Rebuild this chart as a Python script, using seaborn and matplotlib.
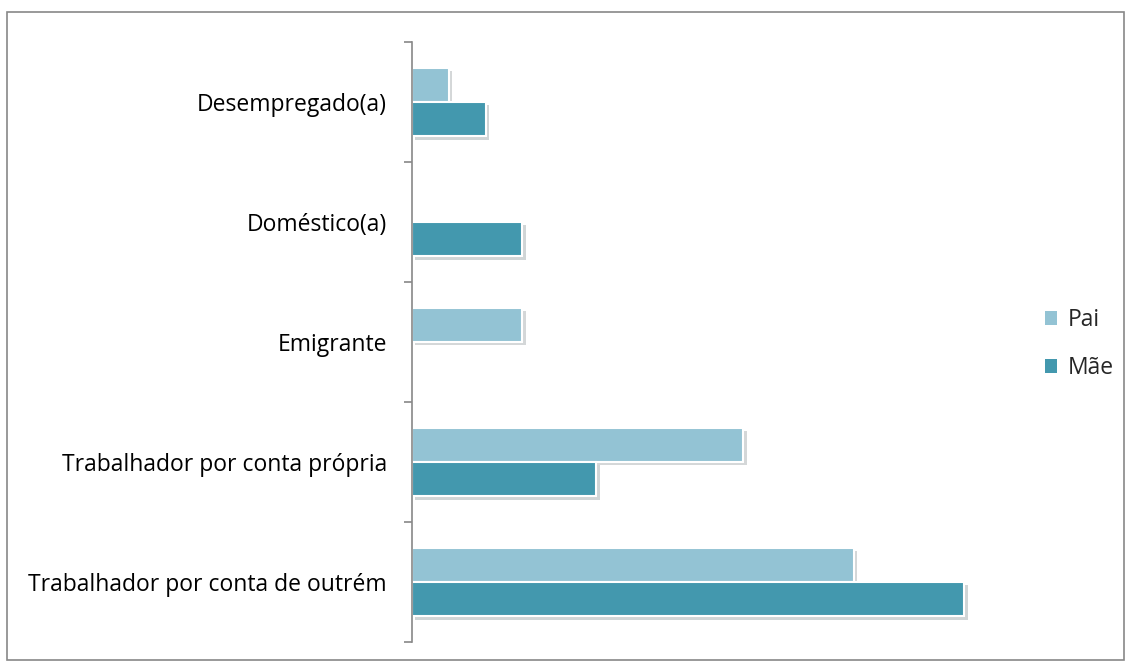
import matplotlib
matplotlib.use("Agg")
import matplotlib.pyplot as plt
import matplotlib.patheffects as pe
from matplotlib.patches import Rectangle
import seaborn as sns
import pandas as pd
import numpy as np

categories = ["Desempregado(a)", "Doméstico(a)", "Emigrante",
              "Trabalhador por conta própria", "Trabalhador por conta de outrém"]
pai = [1, 0, 3, 9, 12]
mae = [2, 3, 0, 5, 15]
series = ["Pai", "Mãe"]
colors = ["#93c3d4", "#4398ae"]

df = pd.DataFrame({
    "categoria": categories * 2,
    "valor": pai + mae,
    "serie": ["Pai"] * len(categories) + ["Mãe"] * len(categories),
})

sns.set_theme(style="white")
plt.rcParams["font.family"] = ["Open Sans", "DejaVu Sans"]

fig = plt.figure(figsize=(11.31, 6.66), dpi=100)
ax = fig.add_axes([412 / 1131, 1 - 642 / 666, (1001 - 412) / 1131, 600 / 666])

sns.barplot(data=df, y="categoria", x="valor", hue="serie", order=categories,
            hue_order=series, palette=colors, saturation=1, orient="h", width=0.57,
            edgecolor="white", linewidth=1.5, ax=ax, legend=False)

for p in ax.patches:
    if p.get_width() > 0:
        p.set_path_effects([pe.SimplePatchShadow(offset=(2.5, -2.5), alpha=0.2),
                            pe.Normal()])
    else:
        p.set_visible(False)

ax.set_xlim(0, 16)
ax.set_ylim(len(categories) - 0.5, -0.5)
ax.set_xlabel("")
ax.set_ylabel("")
ax.set_xticks([])
for s in ["top", "right", "bottom"]:
    ax.spines[s].set_visible(False)
ax.spines["left"].set_color("#888888")
ax.spines["left"].set_linewidth(1.2)

ax.set_yticks(np.arange(len(categories)))
ax.set_yticklabels(categories, fontsize=16.5, color="black")
ax.tick_params(axis="y", which="major", length=0, pad=18)
ax.set_yticks(np.arange(len(categories) + 1) - 0.5, minor=True)
ax.tick_params(axis="y", which="minor", length=6, width=1.2, color="#888888",
               direction="out", left=True)

handles = [Rectangle((0, 0), 1, 1, facecolor=c, edgecolor="none") for c in colors]
fig.legend(handles, series, loc="center left", bbox_to_anchor=(1024 / 1131, 1 - 344 / 666),
           frameon=False, fontsize=16.5, handlelength=0.55, handleheight=0.55,
           handletextpad=0.45, labelspacing=1.05)

border = Rectangle((7 / 1131, 1 - 660 / 666), (1124 - 7) / 1131, (660 - 12) / 666,
                   transform=fig.transFigure, fill=False, edgecolor="#888888",
                   linewidth=1.2)
fig.patches.append(border)

fig.savefig("out.png", dpi=100)
